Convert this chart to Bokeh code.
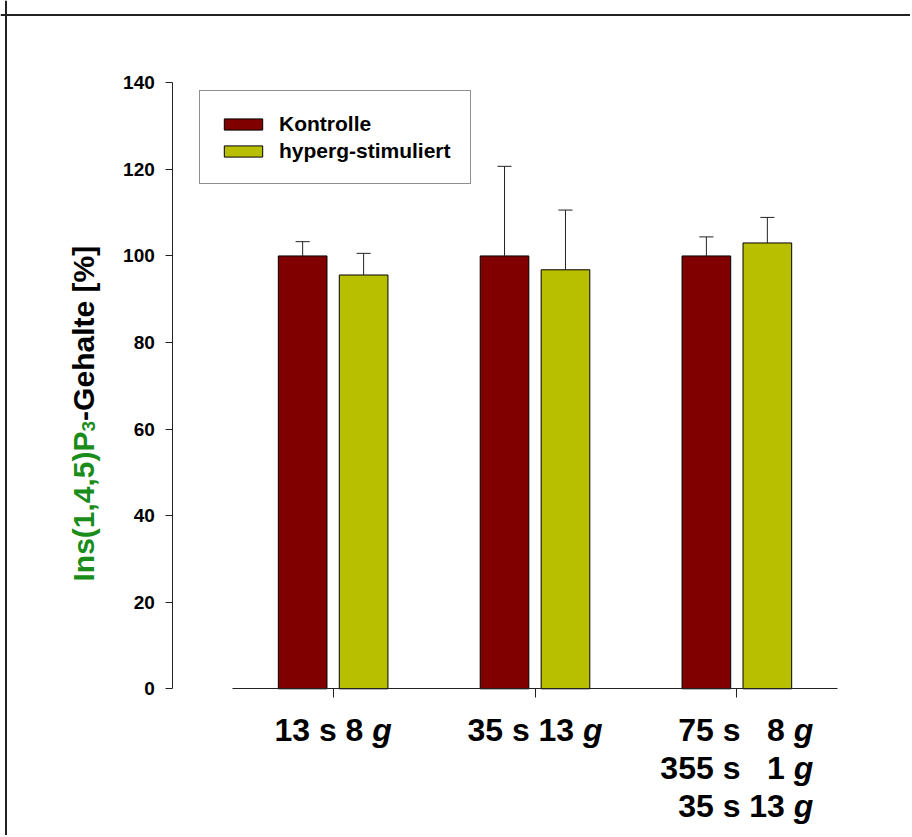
from math import pi
from bokeh.plotting import figure
from bokeh.models import Range1d, FixedTicker, Label, Legend, LegendItem, Span
from bokeh.embed import file_html
from bokeh.resources import INLINE

# ---------------- data ----------------
categories = ["13 s 8 g", "35 s 13 g", "75 s 8 g / 355 s 1 g / 35 s 13 g"]
category_lines = [
    [("13 s 8 ", "g")],
    [("35 s 13 ", "g")],
    [("75 s\u00a0\u00a0 8 ", "g"), ("355 s\u00a0\u00a0 1 ", "g"), ("35 s 13 ", "g")],
]
series_names = ["Kontrolle", "hyperg-stimuliert"]
kontrolle = [100.0, 100.0, 100.0]
kontrolle_err = [3.3, 20.7, 4.4]
hyperg = [95.6, 96.8, 103.0]
hyperg_err = [5.0, 13.8, 5.9]
y_ticks = [0, 20, 40, 60, 80, 100, 120, 140]
y_label_parts = ["Ins(1,4,5)P", "3", "-Gehalte [%]"]

# ---------------- styling / layout ----------------
FONT = "Liberation Sans"
C_K = "#800000"
C_H = "#b8bf00"
C_LINE = "#222222"
C_GREEN = "#1a8c1a"

W, H = 910, 835
OX, OY = 0, 0                      # canvas origin in the picture
AX_L, AX_R = 231.7, 837.3          # x axis extent in the picture (0 .. 3)
Y_TOP, Y_BOT = 82.3, 688.3         # y axis extent in the picture (140 .. 0)
Y_AX_X = 172.3                     # y axis position in the picture
UX = (AX_R - AX_L) / 3.0
UY = (Y_BOT - Y_TOP) / 140.0

def dx(px):
    return (px - AX_L) / UX

def dy(py):
    return (Y_BOT - py) / UY

p = figure(width=W, height=H, output_backend="svg", toolbar_location=None,
           x_range=Range1d(dx(OX), dx(OX + W)), y_range=Range1d(dy(OY + H), dy(OY)),
           min_border=0, min_border_left=0, min_border_right=0,
           min_border_top=0, min_border_bottom=0)
p.grid.visible = False
p.outline_line_color = None
p.background_fill_color = "white"
p.border_fill_color = "white"

# outer frame lines (top and left)
p.add_layout(Span(location=dy(14.5), dimension="width", line_color=C_LINE, line_width=2))
p.add_layout(Span(location=dx(5.5), dimension="height", line_color=C_LINE, line_width=2))

# y axis
ya = p.yaxis[0]
ya.fixed_location = dx(Y_AX_X)
ya.bounds = (0, 140)
ya.ticker = FixedTicker(ticks=y_ticks)
ya.minor_tick_line_color = None
ya.major_tick_in = 0
ya.major_tick_out = 7
ya.axis_line_color = C_LINE
ya.major_tick_line_color = C_LINE
ya.major_label_text_font = FONT
ya.major_label_text_font_style = "bold"
ya.major_label_text_font_size = "19px"
ya.major_label_text_color = "black"
ya.major_label_standoff = 11

# x axis
xa = p.xaxis[0]
xa.fixed_location = 0
xa.bounds = (0, len(categories))
xa.ticker = FixedTicker(ticks=[i + 0.5 for i in range(len(categories))])
xa.minor_tick_line_color = None
xa.major_tick_in = 0
xa.major_tick_out = 9
xa.axis_line_color = C_LINE
xa.major_tick_line_color = C_LINE
xa.major_label_text_color = None
xa.major_label_text_font_size = "1px"

# bars
OFF = 0.151
BW = 0.241
xk = [i + 0.5 - OFF for i in range(len(categories))]
xh = [i + 0.5 + OFF for i in range(len(categories))]
rk = p.vbar(x=xk, top=kontrolle, bottom=0, width=BW, fill_color=C_K, line_color="black", line_width=1)
rh = p.vbar(x=xh, top=hyperg, bottom=0, width=BW, fill_color=C_H, line_color="black", line_width=1)

# error bars (upper only)
CAP = 0.035
for xs_, m, e in ((xk, kontrolle, kontrolle_err), (xh, hyperg, hyperg_err)):
    tops = [a + b for a, b in zip(m, e)]
    p.segment(x0=xs_, y0=m, x1=xs_, y1=tops, line_color=C_LINE, line_width=1)
    p.segment(x0=[x - CAP for x in xs_], y0=tops, x1=[x + CAP for x in xs_], y1=tops,
              line_color=C_LINE, line_width=1)

# legend (position in px from the frame's bottom-left)
LEG_LEFT, LEG_BOTTOM = 199.3, 184.3
legend = Legend(items=[LegendItem(label=series_names[0], renderers=[rk]),
                       LegendItem(label=series_names[1], renderers=[rh])],
                location=(int(round(LEG_LEFT - OX)), int(round(OY + H - LEG_BOTTOM))),
                margin=0, padding=19, spacing=0,
                label_height=27, glyph_width=48, glyph_height=14, label_standoff=12,
                label_text_font=FONT, label_text_font_style="bold", label_text_font_size="21px",
                label_text_color="black",
                border_line_color=C_LINE, border_line_width=1, background_fill_color="white",
                background_fill_alpha=1.0)
p.add_layout(legend, "center")

# category labels
CAT_SIZE = 32
G_W = 0.611 * CAT_SIZE
def adv(s):
    wmap = {" ": 278, "\u00a0": 278, "s": 556}
    return sum(wmap.get(ch, 556) for ch in s) / 1000.0 * CAT_SIZE

baselines = [729, 767, 805]
for i, lines in enumerate(category_lines):
    block_w = max(adv(a) + G_W for a, _ in lines)
    junction = (i + 0.5) + (block_w / 2 - G_W) / UX
    for j, (a, g) in enumerate(lines):
        p.add_layout(Label(x=junction, y=dy(baselines[j]), text=a, text_align="right",
                           text_baseline="alphabetic", text_font=FONT, text_font_style="bold",
                           text_font_size=f"{CAT_SIZE}px", text_color="black"))
        p.add_layout(Label(x=junction, y=dy(baselines[j]), text=g, text_align="left",
                           text_baseline="alphabetic", text_font=FONT, text_font_style="bold italic",
                           text_font_size=f"{CAT_SIZE}px", text_color="black"))

# y axis title (rotated, two colours, subscript)
YL = 30
YS = 19
YBASE_X = 83
Y_START = 581
w1 = 5.002 * YL
w2 = 0.556 * YS
p.add_layout(Label(x=dx(YBASE_X), y=dy(Y_START), text=y_label_parts[0], angle=pi / 2, text_align="left",
                   text_baseline="alphabetic", text_font=FONT, text_font_style="bold",
                   text_font_size=f"{YL}px", text_color=C_GREEN))
p.add_layout(Label(x=dx(YBASE_X + 5), y=dy(Y_START - w1), text=y_label_parts[1], angle=pi / 2,
                   text_align="left", text_baseline="alphabetic", text_font=FONT,
                   text_font_style="bold", text_font_size=f"{YS}px", text_color=C_GREEN))
p.add_layout(Label(x=dx(YBASE_X), y=dy(Y_START - w1 - w2), text=y_label_parts[2], angle=pi / 2,
                   text_align="left", text_baseline="alphabetic", text_font=FONT,
                   text_font_style="bold", text_font_size=f"{YL}px", text_color="black"))

open("out.html", "w").write(file_html(p, INLINE))
